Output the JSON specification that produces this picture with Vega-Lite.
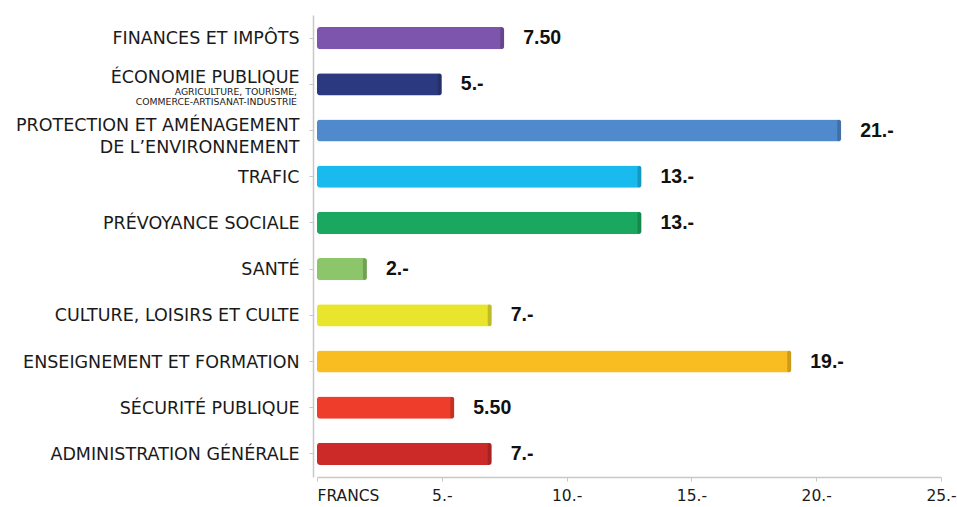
{
  "$schema": "https://vega.github.io/schema/vega-lite/v6.json",
  "width": 624,
  "height": 462,
  "autosize": {"type": "none"},
  "padding": {"left": 317, "top": 15, "right": 16, "bottom": 30},
  "background": "white",
  "config": {"view": {"stroke": null}},
  "data": {
    "values": [
      {"cat": "FINANCES ET IMPÔTS", "value": 7.5, "text": "7.50", "sub": null},
      {"cat": "ÉCONOMIE PUBLIQUE", "value": 5, "text": "5.-", "sub": ["AGRICULTURE, TOURISME,", "COMMERCE-ARTISANAT-INDUSTRIE"]},
      {"cat": "PROTECTION ET AMÉNAGEMENT|DE L’ENVIRONNEMENT", "value": 21, "text": "21.-", "sub": null},
      {"cat": "TRAFIC", "value": 13, "text": "13.-", "sub": null},
      {"cat": "PRÉVOYANCE SOCIALE", "value": 13, "text": "13.-", "sub": null},
      {"cat": "SANTÉ", "value": 2, "text": "2.-", "sub": null},
      {"cat": "CULTURE, LOISIRS ET CULTE", "value": 7, "text": "7.-", "sub": null},
      {"cat": "ENSEIGNEMENT ET FORMATION", "value": 19, "text": "19.-", "sub": null},
      {"cat": "SÉCURITÉ PUBLIQUE", "value": 5.5, "text": "5.50", "sub": null},
      {"cat": "ADMINISTRATION GÉNÉRALE", "value": 7, "text": "7.-", "sub": null}
    ]
  },
  "encoding": {
    "y": {
      "field": "cat",
      "type": "nominal",
      "sort": null,
      "scale": {"paddingInner": 0.52, "paddingOuter": 0.26},
      "axis": {
        "title": null,
        "labelExpr": "split(datum.label, '|')",
        "labelFont": "DejaVu Sans",
        "labelFontSize": 17.5,
        "labelColor": "#1a1a1a",
        "labelLineHeight": 22,
        "labelLimit": 320,
        "labelPadding": 10,
        "labelOffset": {"condition": [
          {"test": "datum.value == 'ÉCONOMIE PUBLIQUE'", "value": -6},
          {"test": "indexof(datum.value, 'PROTECTION') == 0", "value": -5}
        ], "value": 1},
        "offset": 4,
        "domainColor": "#c8c8c8",
        "domainWidth": 1.5,
        "tickColor": "#c8c8c8",
        "tickSize": 4
      }
    },
    "x": {
      "field": "value",
      "type": "quantitative",
      "scale": {"domain": [0, 25], "nice": false},
      "axis": {
        "title": null,
        "values": [0, 5, 10, 15, 20, 25],
        "labelExpr": "datum.value == 0 ? 'FRANCS' : datum.label + '.-'",
        "labelAlign": {"condition": {"test": "datum.value == 0", "value": "left"}, "value": "center"},
        "labelFont": "DejaVu Sans",
        "labelFontSize": 15.5,
        "labelColor": "#1a1a1a",
        "labelPadding": 7,
        "domainColor": "#c8c8c8",
        "domainWidth": 1.5,
        "tickColor": "#c8c8c8",
        "tickSize": 4,
        "grid": false
      }
    }
  },
  "layer": [
    {
      "mark": {"type": "bar", "cornerRadius": 3},
      "encoding": {
        "color": {
          "field": "cat",
          "type": "nominal",
          "legend": null,
          "scale": {
            "domain": ["FINANCES ET IMPÔTS", "ÉCONOMIE PUBLIQUE", "PROTECTION ET AMÉNAGEMENT|DE L’ENVIRONNEMENT", "TRAFIC", "PRÉVOYANCE SOCIALE", "SANTÉ", "CULTURE, LOISIRS ET CULTE", "ENSEIGNEMENT ET FORMATION", "SÉCURITÉ PUBLIQUE", "ADMINISTRATION GÉNÉRALE"],
            "range": ["#7d55ad", "#2b3a80", "#5089cc", "#19bbee", "#1aa760", "#8cc56a", "#e9e52c", "#f9bd22", "#ef3d2c", "#cc2a29"]
          }
        }
      }
    },
    {
      "mark": {"type": "tick", "orient": "vertical", "size": 22, "thickness": 4, "xOffset": -2, "cornerRadius": 2, "color": "#000", "opacity": 0.18},
      "encoding": {}
    },
    {
      "mark": {"type": "text", "align": "left", "baseline": "middle", "dx": 19, "font": "Liberation Sans", "fontWeight": "bold", "fontSize": 19.5, "color": "#111"},
      "encoding": {
        "text": {"field": "text"}
      }
    },
    {
      "transform": [{"filter": "isArray(datum.sub)"}],
      "mark": {"type": "text", "align": "right", "baseline": "middle", "dx": -20, "dy": 8, "font": "DejaVu Sans", "fontSize": 9.3, "lineHeight": 9.5, "color": "#1a1a1a"},
      "encoding": {
        "x": {"datum": 0},
        "text": {"field": "sub"}
      }
    }
  ]
}
